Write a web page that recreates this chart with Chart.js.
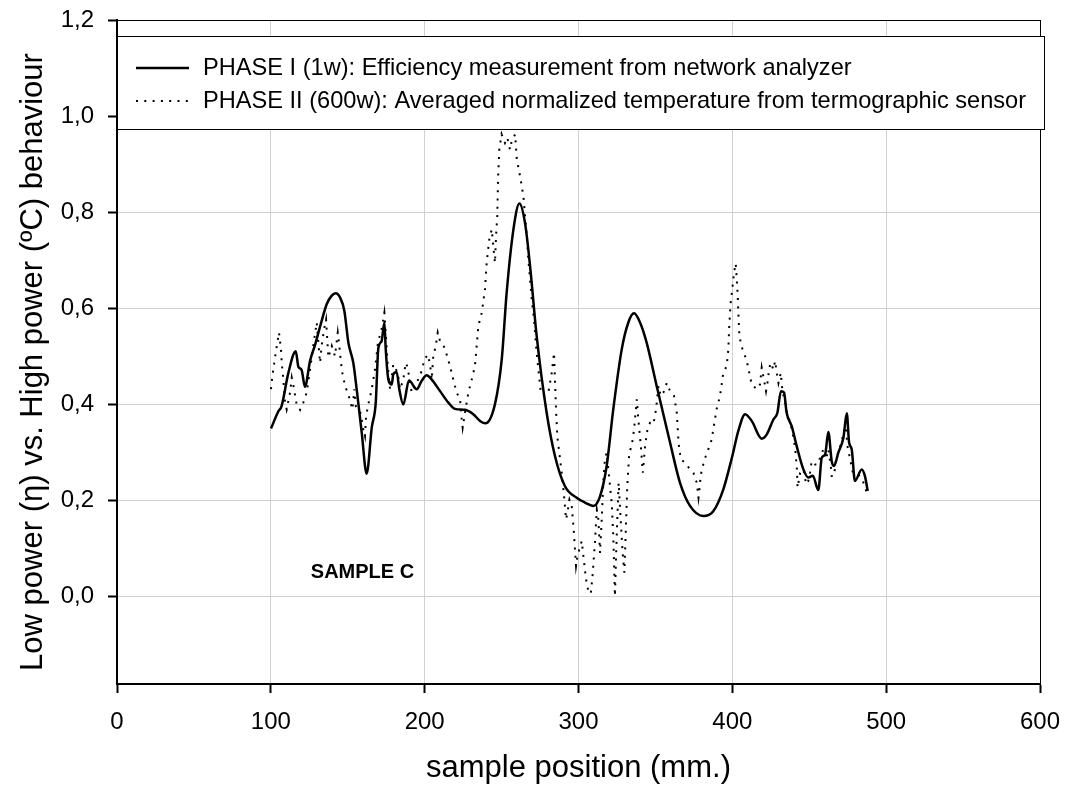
<!DOCTYPE html>
<html>
<head>
<meta charset="utf-8">
<script src="https://cdn.jsdelivr.net/npm/chart.js@4.4.1/dist/chart.umd.min.js"></script>
<style>
  html, body { margin: 0; padding: 0; background: #fff; }
  #wrap { width: 1069px; height: 785px; }
</style>
</head>
<body>
<div id="wrap"><canvas id="chart" width="1069" height="785"></canvas></div>
<script>
// --- DATA ---
const phase1X = [100.1, 104.9, 107, 111.4, 116.2, 117.9, 120, 122.2, 125.5, 128.8, 133, 136.3, 139.6, 142.2, 145, 147.8,
  150.4, 153.6, 155.8, 159.1, 162.3, 165.6, 168.2, 169.9, 172, 173.8, 174.7, 176.4, 178.6, 179.6, 181.8, 183.5, 186.1,
  189.8, 194.8, 198, 201.3, 204.6, 210, 215.4, 219.7, 226.2, 231.6, 236, 239.5, 245.7, 250.1, 253.3, 257.7, 261.6,
  265.2, 268.5, 272.8, 279.3, 284.7, 291.2, 298.8, 304.2, 309.6, 314, 318.3, 322.6, 328.1, 332.4, 336.1, 340, 344.3,
  350.8, 359.5, 366, 372.5, 381.1, 387.6, 394.1, 400, 403.9, 408.3, 412.6, 419.1, 422.4, 426.7, 429.3, 431.6, 433.6,
  435.3, 438.6, 441.8, 446.2, 449.4, 452.3, 455.9, 458.1, 460.3, 462.4, 464.6, 466.1, 468.9, 472.2, 474.4, 475.9,
  477.6, 479.7, 484.1, 486.2, 488];
const phase1Y = [0.349, 0.385, 0.396, 0.465, 0.51, 0.478, 0.471, 0.436, 0.49, 0.524, 0.573, 0.608, 0.626, 0.631, 0.622, 0.594,
  0.528, 0.486, 0.431, 0.34, 0.255, 0.351, 0.403, 0.517, 0.531, 0.57, 0.514, 0.451, 0.441, 0.462, 0.467, 0.431, 0.399,
  0.449, 0.431, 0.448, 0.46, 0.451, 0.427, 0.403, 0.39, 0.388, 0.379, 0.365, 0.36, 0.4, 0.493, 0.632, 0.764, 0.818,
  0.778, 0.688, 0.542, 0.382, 0.292, 0.229, 0.205, 0.195, 0.188, 0.208, 0.271, 0.389, 0.514, 0.57, 0.589, 0.57, 0.528,
  0.438, 0.32, 0.236, 0.188, 0.167, 0.177, 0.222, 0.292, 0.344, 0.379, 0.365, 0.328, 0.337, 0.368, 0.382, 0.427, 0.424,
  0.382, 0.354, 0.313, 0.264, 0.247, 0.251, 0.221, 0.288, 0.295, 0.342, 0.281, 0.271, 0.299, 0.33, 0.381, 0.32,
  0.306, 0.24, 0.264, 0.25, 0.219];

const phase2X = [100.1, 101, 102.7, 104.4, 105.3, 106.6, 107.1, 108.1, 109.2, 110.3, 112.5, 113.6, 114.6, 116.8, 119, 121.1,
  123.3, 125.5, 127.6, 129.8, 132, 133.1, 134.8, 135.9, 137.4, 139.6, 141.7, 143.5, 144.3, 145.6, 146.5, 148.2, 150.4,
  152.1, 153, 154.3, 155.2, 158, 159.1, 160.1, 161.2, 161.9, 163.4, 165.6, 167.7, 169.5, 171, 172.5, 173.8, 174.7, 176,
  177.5, 179.6, 182.5, 184, 186.1, 187.7, 189, 189.8, 191.6, 194.8, 198.1, 199.8, 202, 203.5, 204.6, 205.6, 207.2,
  208.5, 210, 212.1, 214.3, 216.5, 218.6, 220.8, 223, 224.1, 224.7, 226.2, 228.4, 230.6, 232.7, 234.9, 237.1, 239.2,
  240.3, 242, 243.6, 244.6, 245.7, 246.4, 247.2, 247.7, 248.5, 250, 252.2, 253.7, 255.5, 256.6, 258.8, 259.9, 262,
  264.2, 265.3, 266.4, 267.4, 268.5, 269.6, 271.1, 272.4, 273.9, 275.5, 277.6, 280.4, 282.6, 284.1, 284.7, 285.3,
  286.2, 287.5, 289.1, 290.6, 291.9, 292.8, 294.1, 295.6, 296.7, 297.7, 298.4, 299.3, 302.1, 303.2, 304.9, 306.4, 308,
  309.3, 310.8, 311.9, 312.9, 314, 315.1, 316.2, 317.2, 318.3, 319.4, 320.5, 321.6, 322.6, 323.7, 324.3, 325.2, 326.1,
  327.4, 328.7, 329.8, 330.7, 331.7, 333, 334.6, 336.1, 337.9, 338.9, 340.5, 341.8, 343.3, 344.8, 346.5, 348.7, 350.4,
  352, 353.5, 355.2, 357.4, 359.5, 362.1, 363.9, 365, 366.5, 369.3, 372.5, 374.7, 376.9, 378, 378.6, 379.5, 380.8,
  382.3, 384.4, 386.6, 387.6, 388.7, 389.8, 392, 394.1, 396.3, 397.4, 398, 398.9, 400.2, 401.1, 402.2, 402.9, 403.5,
  403.9, 404.6, 406, 409.4, 411.5, 412.6, 415.9, 418, 419.1, 421.9, 422.8, 424.1, 425, 426.7, 427.8, 428.9, 430,
  431.5, 432.2, 433.3, 434.4, 435.5, 437.7, 439.8, 440.9, 442, 442.4, 444.1, 446.2, 448, 449.4, 450.5, 451.6, 453.8,
  455.3, 459.2, 460.9, 462.4, 464, 464.6, 466.1, 467.4, 468.9, 470.5, 472.2, 473.7, 474.8, 476.6, 478.3, 482, 484.8,
  485.9, 487.4];
const phase2Y = [0.431, 0.458, 0.497, 0.531, 0.549, 0.514, 0.486, 0.451, 0.406, 0.389, 0.424, 0.455, 0.44, 0.399, 0.388, 0.403,
  0.424, 0.472, 0.521, 0.57, 0.486, 0.524, 0.559, 0.576, 0.497, 0.521, 0.5, 0.549, 0.528, 0.486, 0.465, 0.438, 0.42,
  0.4, 0.389, 0.431, 0.396, 0.385, 0.368, 0.347, 0.333, 0.375, 0.4, 0.431, 0.472, 0.524, 0.545, 0.563, 0.59, 0.549, 0.479,
  0.431, 0.483, 0.465, 0.431, 0.451, 0.486, 0.476, 0.458, 0.424, 0.444, 0.469, 0.493, 0.503, 0.483, 0.451, 0.5, 0.521,
  0.549, 0.531, 0.524, 0.503, 0.479, 0.451, 0.424, 0.41, 0.368, 0.351, 0.382, 0.424, 0.451, 0.479, 0.563, 0.59, 0.639,
  0.694, 0.743, 0.764, 0.729, 0.694, 0.75, 0.792, 0.868, 0.93, 0.962, 0.944, 0.955, 0.93, 0.948, 0.962, 0.91, 0.875,
  0.833, 0.79, 0.75, 0.701, 0.66, 0.618, 0.576, 0.521, 0.472, 0.424, 0.417, 0.424, 0.465, 0.507, 0.451, 0.396,
  0.333, 0.299, 0.257, 0.208, 0.16, 0.174, 0.201, 0.188, 0.146, 0.097, 0.063, 0.083, 0.115, 0.083, 0.035, 0.01, 0.005,
  0.049, 0.118, 0.18, 0.16, 0.09, 0.16, 0.243, 0.285, 0.299, 0.264, 0.229, 0.194, 0.125, 0.0, 0.07, 0.16, 0.236,
  0.16, 0.09, 0.049, 0.132, 0.229, 0.299, 0.313, 0.347, 0.41, 0.368, 0.313, 0.257, 0.313, 0.347, 0.361, 0.358, 0.389,
  0.438, 0.417, 0.424, 0.444, 0.427, 0.417, 0.382, 0.32, 0.285, 0.278, 0.264, 0.257, 0.236, 0.205, 0.222, 0.253, 0.271,
  0.288, 0.306, 0.326, 0.347, 0.368, 0.39, 0.417, 0.465, 0.479, 0.514, 0.563, 0.611, 0.646, 0.674, 0.693, 0.66, 0.625,
  0.59, 0.542, 0.52, 0.49, 0.458, 0.441, 0.431, 0.441, 0.476, 0.427, 0.444, 0.476, 0.486, 0.472, 0.49, 0.465, 0.444,
  0.465, 0.438, 0.417, 0.403, 0.382, 0.361, 0.33, 0.306, 0.264, 0.226, 0.257, 0.264, 0.233, 0.24, 0.257, 0.281, 0.274,
  0.274, 0.306, 0.285, 0.306, 0.271, 0.25, 0.25, 0.285, 0.299, 0.316, 0.337, 0.354, 0.313, 0.285, 0.257, 0.253, 0.24,
  0.23, 0.215];

const seriesNames = [
  'PHASE I (1w): Efficiency measurement from network analyzer',
  'PHASE II (600w): Averaged normalized temperature from termographic sensor'
];
const xTicks = [0, 100, 200, 300, 400, 500, 600];
const yTicks = [0, 0.2, 0.4, 0.6, 0.8, 1.0, 1.2];
const sampleName = 'SAMPLE C';
const yTitle = 'Low power (\u03b7) vs. High power (\u00baC) behaviour';

const FONT = '"Liberation Sans", Arial, Helvetica, sans-serif';
const SOLID_DASH = [];
const DOT_DASH = [2, 6.3];

const toPoints = (xs, ys) => xs.map((x, i) => ({ x: x, y: ys[i] }));

// frame round the plot area, y title
const framePlugin = {
  id: 'frame',
  beforeDatasetsDraw(chart) {
    const { ctx, chartArea: a } = chart;
    ctx.save();
    ctx.strokeStyle = '#000';
    ctx.lineWidth = 1;
    ctx.strokeRect(a.left + 0.5, a.top + 0.5, a.right - a.left, a.bottom - a.top);

    ctx.translate(42, (a.top + a.bottom) / 2 + 10);
    ctx.rotate(-Math.PI / 2);
    ctx.fillStyle = '#000';
    ctx.font = '31px ' + FONT;
    ctx.textAlign = 'center';
    ctx.textBaseline = 'alphabetic';
    ctx.fillText(yTitle, 0, 0);
    ctx.restore();
  }
};

// boxed legend at top + sample tag
const boxLegend = {
  id: 'boxLegend',
  afterDatasetsDraw(chart) {
    const { ctx, chartArea: a, scales } = chart;
    ctx.save();
    const top = a.top + 16, h = 93;
    ctx.fillStyle = '#fff';
    ctx.fillRect(a.left, top, a.right - a.left + 4, h);
    ctx.strokeStyle = '#000';
    ctx.lineWidth = 1;
    ctx.strokeRect(a.left + 0.5, top + 0.5, a.right - a.left + 4, h);

    const rows = [top + 32, top + 65];
    const dashes = [SOLID_DASH, DOT_DASH];
    const widths = [2.5, 2];
    seriesNames.forEach((name, i) => {
      ctx.beginPath();
      ctx.setLineDash(dashes[i]);
      ctx.lineWidth = widths[i];
      ctx.strokeStyle = '#000';
      ctx.moveTo(a.left + 19, rows[i]);
      ctx.lineTo(a.left + 72, rows[i]);
      ctx.stroke();
      ctx.setLineDash([]);
      ctx.fillStyle = '#000';
      ctx.font = '23.6px ' + FONT;
      ctx.textBaseline = 'middle';
      ctx.textAlign = 'left';
      ctx.fillText(name, a.left + 86, rows[i]);
    });

    ctx.font = 'bold 20px ' + FONT;
    ctx.textAlign = 'left';
    ctx.textBaseline = 'middle';
    ctx.fillText(sampleName, scales.x.getPixelForValue(126), scales.y.getPixelForValue(0.05));
    ctx.restore();
  }
};

new Chart(document.getElementById('chart'), {
  type: 'scatter',
  data: {
    datasets: [
      {
        label: seriesNames[0],
        data: toPoints(phase1X, phase1Y),
        showLine: true,
        borderColor: '#000',
        borderWidth: 2.5,
        pointRadius: 0,
        cubicInterpolationMode: 'monotone',
        order: 1
      },
      {
        label: seriesNames[1],
        data: toPoints(phase2X, phase2Y),
        showLine: true,
        borderColor: '#000',
        borderWidth: 2,
        borderDash: DOT_DASH,
        pointRadius: 0,
        tension: 0,
        order: 2
      }
    ]
  },
  options: {
    responsive: false,
    animation: false,
    layout: { padding: { top: 20, right: 29, left: 0, bottom: 0 } },
    plugins: { legend: { display: false }, tooltip: { enabled: false } },
    scales: {
      x: {
        type: 'linear',
        min: 0, max: 600,
        afterFit: s => { s.height = 101; s.paddingLeft = 0; s.paddingRight = 0; },
        afterBuildTicks: s => { s.ticks = xTicks.map(v => ({ value: v })); },
        ticks: {
          color: '#000', padding: 15,
          font: { family: FONT, size: 24 },
          callback: v => String(v)
        },
        grid: { color: '#d0d0d0', lineWidth: 1, tickColor: '#000', tickLength: 9, tickWidth: 2 },
        border: { color: '#000', width: 2 },
        title: {
          display: true, text: 'sample position (mm.)', color: '#000',
          font: { family: FONT, size: 31 }, padding: { top: 0, bottom: -2 }
        }
      },
      y: {
        type: 'linear',
        min: -0.183, max: 1.2,
        afterFit: s => { s.width = 117; s.paddingTop = 0; s.paddingBottom = 0; },
        afterBuildTicks: s => { s.ticks = yTicks.map(v => ({ value: v })); },
        ticks: {
          color: '#000', padding: 14,
          font: { family: FONT, size: 24 },
          callback: v => v.toFixed(1).replace('.', ',')
        },
        grid: { color: '#d0d0d0', lineWidth: 1, tickColor: '#000', tickLength: 9, tickWidth: 2 },
        border: { color: '#000', width: 2 },
        title: { display: false }
      }
    }
  },
  plugins: [framePlugin, boxLegend]
});
</script>
</body>
</html>
